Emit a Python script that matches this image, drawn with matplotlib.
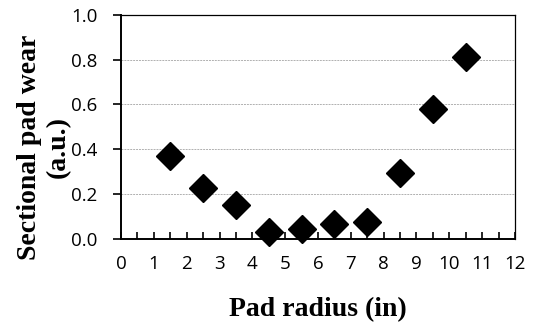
import matplotlib
matplotlib.use("Agg")
import matplotlib.pyplot as plt
from matplotlib.ticker import MultipleLocator

# pad radius (in) and sectional wear (a.u.)
radius = [1.5, 2.5, 3.5, 4.5, 5.5, 6.5, 7.5, 8.5, 9.5, 10.5]
wear = [0.367, 0.228, 0.148, 0.029, 0.043, 0.064, 0.076, 0.292, 0.580, 0.814]

x_ticks = list(range(0, 13))
y_ticks = [0.0, 0.2, 0.4, 0.6, 0.8, 1.0]

fig = plt.figure(figsize=(5.37, 3.26), dpi=100)
ax = fig.add_axes([121 / 537, 1 - 238.5 / 326, 394 / 537, 223.5 / 326])

ax.plot(radius, wear, linestyle="none", marker="D", markersize=14,
        color="black", zorder=3, clip_on=False)

ax.set_xlim(0, 12)
ax.set_ylim(0, 1.0)
ax.set_xticks(x_ticks)
ax.set_yticks(y_ticks)
ax.set_yticklabels([f"{v:.1f}" for v in y_ticks])
ax.xaxis.set_minor_locator(MultipleLocator(0.5))

for lab in ax.get_xticklabels() + ax.get_yticklabels():
    lab.set_fontfamily("Open Sans")
    lab.set_fontsize(13.5)

ax.tick_params(axis="x", which="both", direction="in", length=5, width=1.2,
               pad=12, color="black")
ax.tick_params(axis="y", which="major", direction="out", length=6, width=1.2,
               pad=11, color="black")

ax.grid(axis="y", color="#b0b0b0", linestyle=(0, (2, 1)), linewidth=0.7)
ax.set_axisbelow(True)

for side in ["left", "bottom"]:
    ax.spines[side].set_linewidth(1.4)
for side in ["top", "right"]:
    ax.spines[side].set_linewidth(0.9)

label_font = dict(family="Liberation Serif", weight="bold", size=20)
ax.set_xlabel("Pad radius (in)", labelpad=17, **label_font)
ax.set_ylabel("Sectional pad wear\n(a.u.)", linespacing=1.2, **label_font)
ax.yaxis.set_label_coords(-0.128, 0.41)

fig.savefig("out.png", dpi=100)
